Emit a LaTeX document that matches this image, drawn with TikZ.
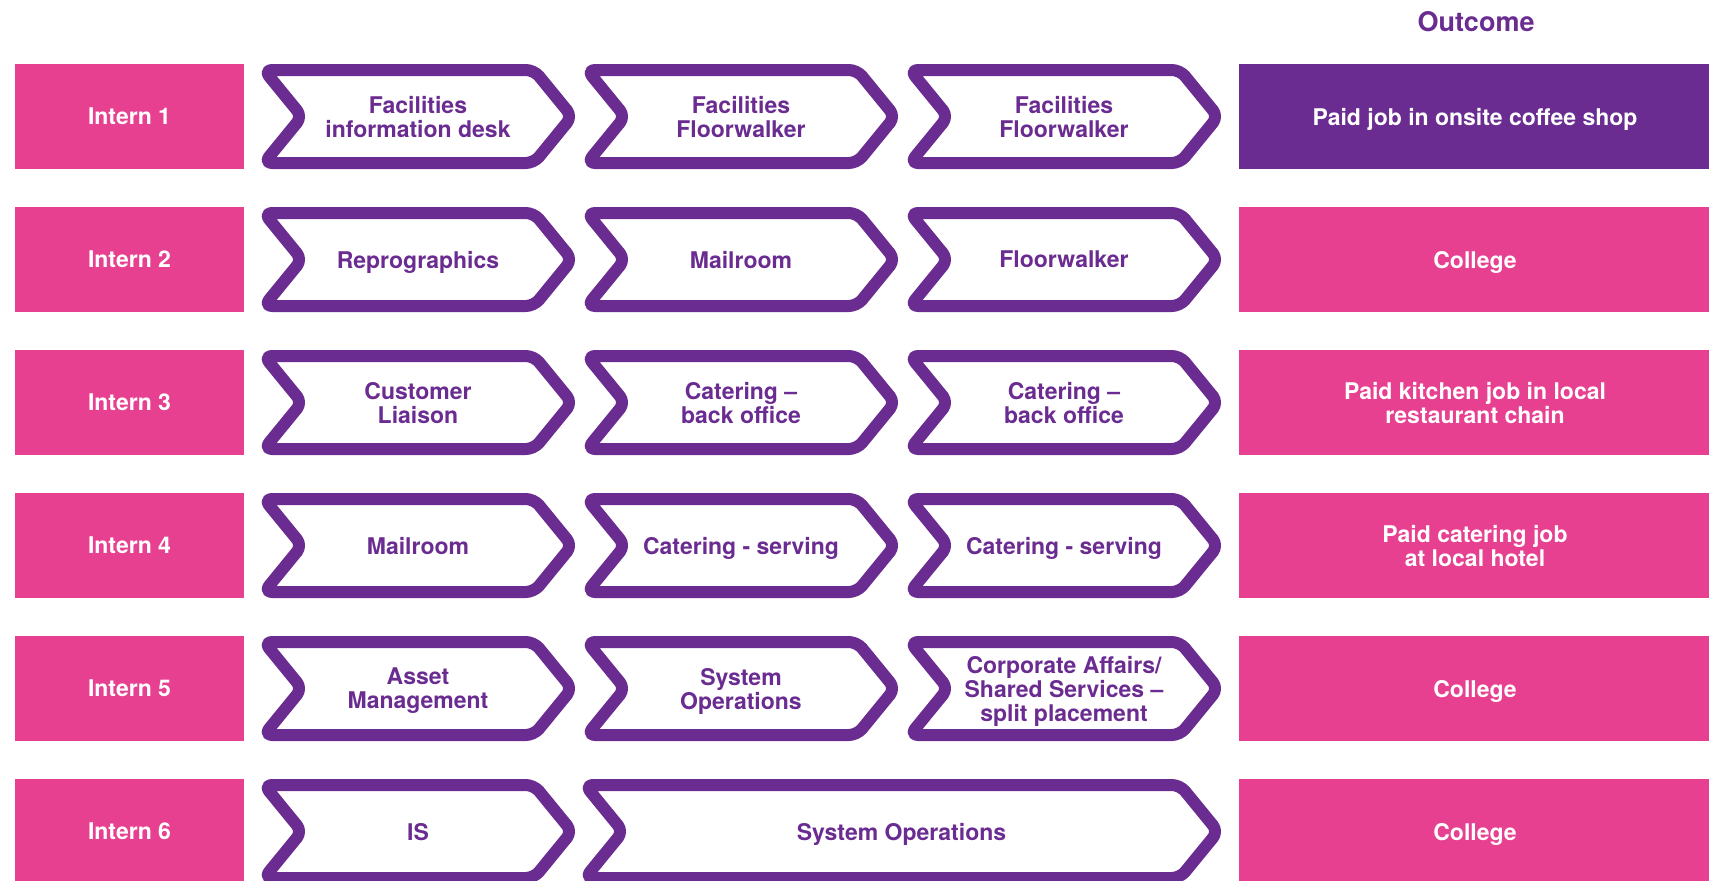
\documentclass[tikz,border=0pt]{standalone}
\usepackage{fontspec}
\setmainfont{TeX Gyre Heros}
\definecolor{rowpink}{RGB}{231,64,145}
\definecolor{deeppurple}{RGB}{107,44,145}
\tikzset{
  labelfont/.style={font=\bfseries\fontsize{23}{24}\selectfont, align=center, inner sep=0pt, text depth=0pt},
  internbox/.style={fill=rowpink, text=white, labelfont, minimum width=229pt, minimum height=105pt},
  outcomebox/.style={fill=rowpink, text=white, labelfont, minimum width=472pt, minimum height=105pt},
  finalbox/.style={outcomebox, fill=deeppurple},
  chevline/.style={draw=deeppurple, line width=12pt, rounded corners=8pt, line join=round},
  chevtext/.style={labelfont, text=deeppurple},
  headtext/.style={font=\bfseries\fontsize{27}{28}\selectfont, inner sep=0pt, text=deeppurple},
}
% depth of the notch / point of each placement arrow
\newcommand\chevdepth{38}
% #1 node name, #2 left x, #3 right x (outer edges), #4 centre y, #5 label
\newcommand\placement[5]{%
  \draw[chevline] ({(#2+#3)/2}, #4-46.5) -- (#3-2-\chevdepth, #4-46.5) -- (#3-2, #4)
     -- (#3-2-\chevdepth, #4+46.5) -- (#2+2, #4+46.5) -- (#2+2+\chevdepth, #4)
     -- (#2+2, #4-46.5) -- ({(#2+#3)/2}, #4-46.5);
  \node[chevtext] (#1) at ({(#2+#3)/2}, #4) {#5};
}
\begin{document}
\begin{tikzpicture}[x=1pt, y=-1pt]
  \useasboundingbox (0,0) rectangle (1709,881);
  \clip (0,0) rectangle (1709,881);

  \node[headtext] (head) at (1476,22) {Outcome};

  % Intern 1
  \node[internbox] (i1) at (129.5,116.5) {Intern 1};
  \placement{p11}{262}{574}{116.5}{Facilities\\information desk}
  \placement{p12}{585}{897}{116.5}{Facilities\\Floorwalker}
  \placement{p13}{908}{1220}{116.5}{Facilities\\Floorwalker}
  \node[finalbox] (o1) at (1475,116.5) {Paid job in onsite coffee shop};

  % Intern 2
  \node[internbox] (i2) at (129.5,259.5) {Intern 2};
  \placement{p21}{262}{574}{259.5}{Reprographics}
  \placement{p22}{585}{897}{259.5}{Mailroom}
  \placement{p23}{908}{1220}{259.5}{Floorwalker}
  \node[outcomebox] (o2) at (1475,259.5) {College};

  % Intern 3
  \node[internbox] (i3) at (129.5,402.5) {Intern 3};
  \placement{p31}{262}{574}{402.5}{Customer\\Liaison}
  \placement{p32}{585}{897}{402.5}{Catering –\\back office}
  \placement{p33}{908}{1220}{402.5}{Catering –\\back office}
  \node[outcomebox] (o3) at (1475,402.5) {Paid kitchen job in local\\restaurant chain};

  % Intern 4
  \node[internbox] (i4) at (129.5,545.5) {Intern 4};
  \placement{p41}{262}{574}{545.5}{Mailroom}
  \placement{p42}{585}{897}{545.5}{Catering - serving}
  \placement{p43}{908}{1220}{545.5}{Catering - serving}
  \node[outcomebox] (o4) at (1475,545.5) {Paid catering job\\at local hotel};

  % Intern 5
  \node[internbox] (i5) at (129.5,688.5) {Intern 5};
  \placement{p51}{262}{574}{688.5}{Asset\\Management}
  \placement{p52}{585}{897}{688.5}{System\\Operations}
  \placement{p53}{908}{1220}{688.5}{Corporate Affairs/\\Shared Services –\\split placement}
  \node[outcomebox] (o5) at (1475,688.5) {College};

  % Intern 6
  \node[internbox] (i6) at (129.5,831.5) {Intern 6};
  \placement{p61}{262}{574}{831.5}{IS}
  \placement{p62}{583}{1220}{831.5}{System Operations}
  \node[outcomebox] (o6) at (1475,831.5) {College};
\end{tikzpicture}
\end{document}
